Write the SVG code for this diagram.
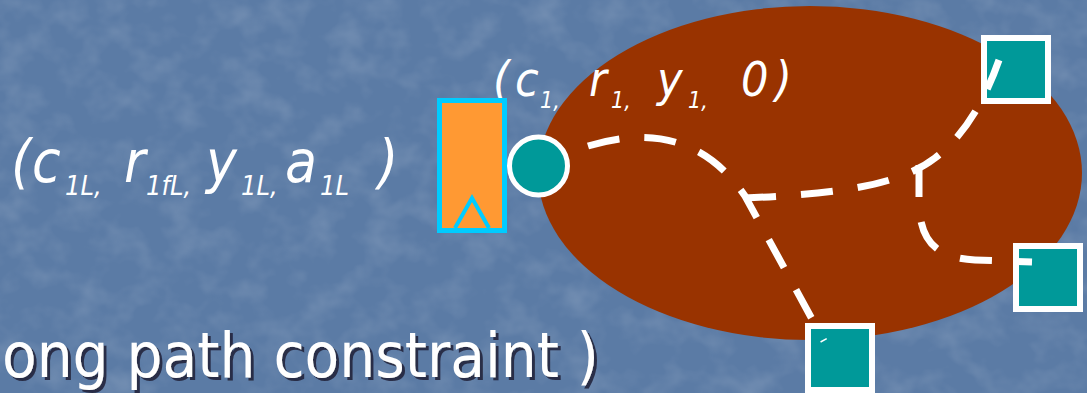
<svg xmlns="http://www.w3.org/2000/svg" width="1087" height="393" viewBox="0 0 1087 393">
  <defs>
    <filter id="tex" x="0" y="0" width="100%" height="100%">
      <feTurbulence type="fractalNoise" baseFrequency="0.03 0.035" numOctaves="3" seed="7"/>
      <feColorMatrix type="matrix" values="0 0 0 0 1  0 0 0 0 1  0 0 0 0 1  0.9 0 0 0 -0.38"/>
    </filter>
    <filter id="shadow" x="-5%" y="-20%" width="110%" height="140%">
      <feDropShadow dx="3" dy="3" stdDeviation="0.6" flood-color="#1b2436" flood-opacity="0.85"/>
    </filter>
    <style>
      .it { font-family: "DejaVu Sans Condensed", "DejaVu Sans", sans-serif; font-stretch: condensed; font-style: italic; fill: #ffffff; }
      .txt { font-family: "DejaVu Sans Condensed", "DejaVu Sans", sans-serif; font-stretch: condensed; }
      .sq { fill: #009999; stroke: #ffffff; stroke-width: 6; }
      .dash { fill: none; stroke: #ffffff; stroke-width: 7; stroke-dasharray: 32 25; stroke-linecap: butt; }
    </style>
  </defs>

  <rect x="0" y="0" width="1087" height="393" fill="#5b7ba5"/>
  <rect x="0" y="0" width="1087" height="393" filter="url(#tex)" opacity="0.3"/>

  <g id="region">
    <ellipse cx="810" cy="173" rx="272" ry="167" fill="#993300"/>
  </g>

  <g id="label-left">
    <text class="it" font-size="58" y="182">
      <tspan x="11">(</tspan><tspan x="32">c</tspan><tspan x="65" y="195" font-size="27">1L,</tspan><tspan x="124" y="182">r</tspan><tspan x="146" y="195" font-size="27">1fL,</tspan><tspan x="206" y="182">y</tspan><tspan x="241" y="195" font-size="27">1L,</tspan><tspan x="285" y="182">a</tspan><tspan x="320" y="195" font-size="27">1L</tspan><tspan x="378" y="182">)</tspan>
    </text>
  </g>

  <g id="label-top">
    <text class="it" font-size="48" y="96">
      <tspan x="493">(</tspan><tspan x="515">c</tspan><tspan x="540" y="108" font-size="23">1,</tspan><tspan x="589" y="96">r</tspan><tspan x="611" y="108" font-size="23">1,</tspan><tspan x="657" y="96">y</tspan><tspan x="688" y="108" font-size="23">1,</tspan><tspan x="741" y="96">0</tspan><tspan x="775" y="96">)</tspan>
    </text>
  </g>

  <g id="node-block">
    <rect x="439.5" y="100.5" width="65" height="130" fill="#ff9933" stroke="#00ccff" stroke-width="5"/>
    <path d="M455,228 L472,198 L489,228" fill="none" stroke="#00ccff" stroke-width="4"/>
  </g>

  <g id="node-start">
    <circle cx="538.5" cy="166" r="29" fill="#009999" stroke="#ffffff" stroke-width="5"/>
  </g>

  <g id="node-top-right">
    <rect class="sq" x="984" y="38" width="64" height="63"/>
  </g>
  <g id="node-right">
    <rect class="sq" x="1016" y="246" width="64" height="63"/>
  </g>
  <g id="node-bottom">
    <rect class="sq" x="808" y="326" width="64" height="64"/>
  </g>

  <g id="connectors">
    <path class="dash" d="M588,146 Q690,115 745,196 L824,341"/>
    <path class="dash" d="M744,198 C840,194 900,185 935,158 C965,135 985,100 999,60"/>
    <path class="dash" d="M919,165 L919,200 C919,240 935,258 975,260 L1032,262"/>
  </g>

  <g id="caption">
    <text class="txt" x="2" y="377" font-size="63" fill="#ffffff" filter="url(#shadow)">ong path constraint )</text>
  </g>
</svg>
